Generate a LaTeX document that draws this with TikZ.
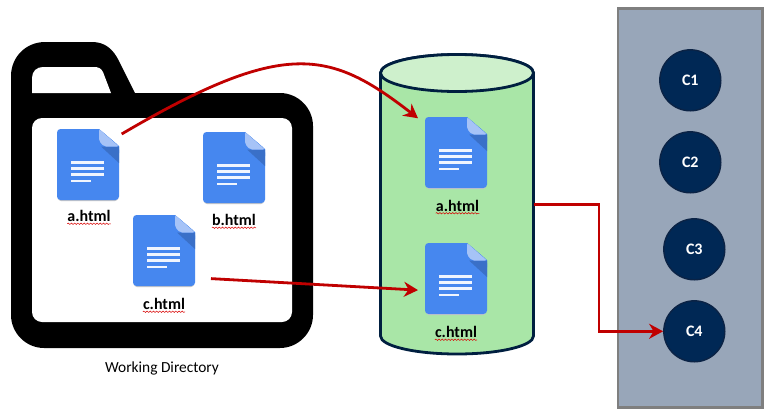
\documentclass[tikz,border=0pt]{standalone}
\usepackage{fontspec}
\setmainfont{Carlito}
\usetikzlibrary{arrows.meta,calc,decorations.pathmorphing}
\definecolor{docblue}{HTML}{4687EF}
\definecolor{doclight}{HTML}{A6C3F7}
\definecolor{docdark}{HTML}{3A70C8}
\definecolor{arrowred}{HTML}{C00000}
\definecolor{navy}{HTML}{002855}
\definecolor{navyline}{HTML}{0B2345}
\definecolor{panelfill}{HTML}{98A6B9}
\definecolor{panelline}{HTML}{7F7F7F}
\definecolor{cylbody}{HTML}{A9E6A7}
\definecolor{cyltop}{HTML}{CEF0CC}
\definecolor{cylline}{HTML}{001F40}
\tikzset{
  x=1pt,y=-1pt,
  filebox/.style={rectangle,minimum width=62pt,minimum height=71pt,inner sep=0pt,outer xsep=7pt,outer ysep=0pt},
  fname/.style={inner sep=0pt,font=\fontsize{16}{16}\selectfont\bfseries,text=black},
  squiggle/.style={draw=red!85!black,line width=0.5pt,decorate,decoration={snake,segment length=3.2pt,amplitude=0.7pt}},
  redline/.style={draw=arrowred,line width=2.8pt},
  redarrow/.style={redline,-{Stealth[length=14pt,width=15pt,inset=4.5pt]}},
  comp/.style={circle,fill=navy,draw=navyline,line width=1.4pt,minimum size=61pt,inner sep=0pt,outer sep=0.7pt,text=white,font=\fontsize{16}{16}\selectfont\bfseries}
}
\newcommand{\docicon}[3]{%
  \begin{scope}[shift={(#2,#3)}]
    \node[filebox] (#1) at (31,35.5) {};
    \fill[black!22,rounded corners=3pt] (1,60) rectangle (61,72);
    \fill[docblue,rounded corners=3.5pt] (0,0) -- (0,71) -- (62,71) -- (62,17) -- (42,0) -- cycle;
    \fill[docblue] (38,0) -- (42,0) -- (62,17) -- (62,24) -- (38,24) -- cycle;
    \fill[docdark] (44,17.5) -- (62,17.5) -- (62,34) -- cycle;
    \fill[doclight,rounded corners=2pt] (42,0) -- (42,12) -- (47,17.5) -- (62,17.5) -- cycle;
    \fill[white!92!docblue] (14.3,32) rectangle (47.3,34.7);
    \fill[white!92!docblue] (14.3,38) rectangle (47.3,40.7);
    \fill[white!92!docblue] (14.3,44) rectangle (47.3,46.7);
    \fill[white!92!docblue] (14.3,50.5) rectangle (33.7,53.2);
  \end{scope}}
\newcommand{\fname}[4]{%
  \node[fname] (#1) at (#2,#3) {#4};
  \draw[squiggle] ([yshift=-2.2pt]#1.base west) -- ([yshift=-2.2pt]#1.base east);}
\begin{document}
\begin{tikzpicture}
\useasboundingbox (0,0) rectangle (772,416);
% folder
\fill[black] (135,93) -- (119,61) .. controls (113,49) and (105,42) .. (92,42) -- (45,42)
  .. controls (26,42) and (11,57) .. (11,76) -- (11,315)
  .. controls (11,333) and (26,348) .. (44,348) -- (280,348)
  .. controls (298,348) and (313,333) .. (313,315) -- (313,126)
  .. controls (313,108) and (298,93) .. (280,93) -- cycle;
\fill[white,rounded corners=10pt] (32,118) rectangle (292,322);
\fill[white] (32,93) -- (32,78) .. controls (32,71) and (37,67) .. (43,67) -- (94,67)
  .. controls (98,67) and (101,68) .. (103,72) -- (111,93) -- cycle;
\node[inner sep=0pt,font=\fontsize{15.4}{15.4}\selectfont] (wd) at (162,368) {Working Directory};
\docicon{filea}{57}{129}
\docicon{fileb}{203}{132}
\docicon{filec}{133}{215}
\fname{la}{89}{216}{a.html}
\fname{lb}{234}{220}{b.html}
\fname{lc}{164}{304}{c.html}
% cylinder
\node[rectangle,minimum width=153pt,minimum height=299.5pt,inner sep=0pt,outer sep=0pt] (cyl) at (457,204.25) {};
\draw[draw=cylline,fill=cylbody,line width=2.8pt] (380.5,73) -- (380.5,336) arc[start angle=180,end angle=360,x radius=76.5pt,y radius=18pt] -- (533.5,73) arc[start angle=0,end angle=180,x radius=76.5pt,y radius=18.5pt] -- cycle;
\draw[draw=cylline,fill=cyltop,line width=2.8pt] (457,73) ellipse[x radius=76.5pt,y radius=18.5pt];
\docicon{cyla}{425}{117}
\docicon{cylc}{425}{243}
\fname{lca}{457.5}{205.5}{a.html}
\fname{lcc}{456}{332}{c.html}
% panel
\node[rectangle,fill=panelfill,draw=panelline,line width=2.6pt,minimum width=144.5pt,minimum height=399pt,inner sep=0pt,outer sep=0pt] (panel) at (690.4,207.8) {};
\node[comp] (c1) at (690.3,80.3) {C1};
\node[comp] (c2) at (690.3,162.3) {C2};
\node[comp] (c3) at (694.3,249.3) {C3};
\node[comp] (c4) at (694.3,331.3) {C4};
% connectors
\draw[redarrow,shorten <=-5pt] (filea.41) .. controls (285,38) and (330,50) .. (cyla.138.6);
\draw[redarrow,shorten <=9pt] (filec.-36.9) -- (cylc.197.5);
\draw[redarrow] (cyl.east) -- ++(65.5,0) |- (c4.west);
\end{tikzpicture}
\end{document}
